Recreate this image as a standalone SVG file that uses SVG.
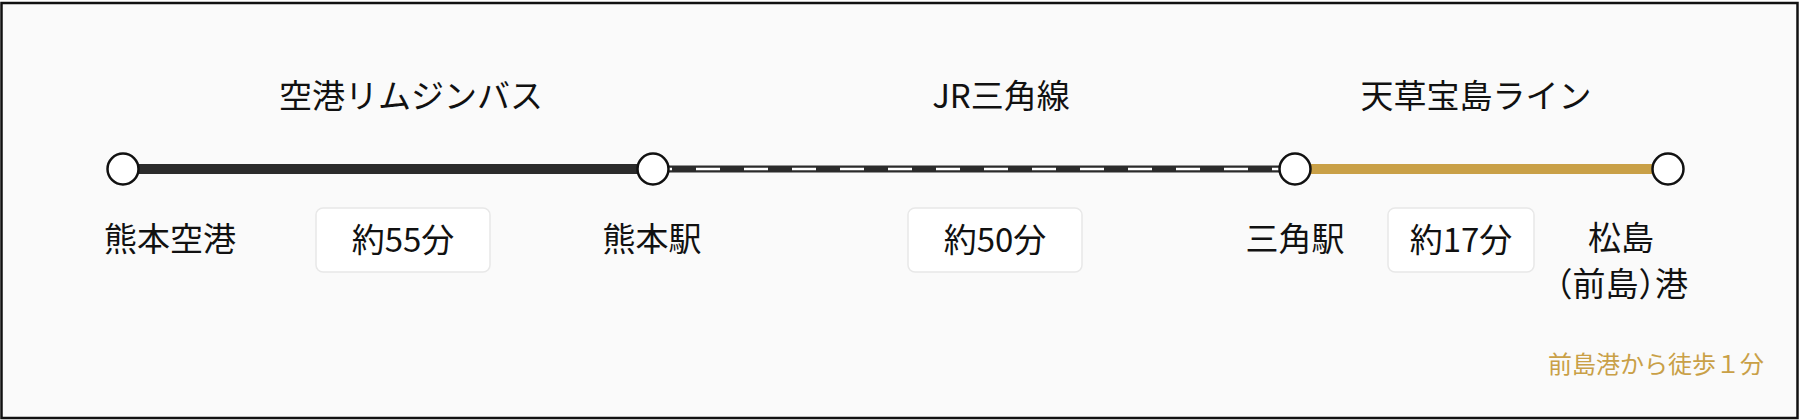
<svg xmlns="http://www.w3.org/2000/svg" width="1800" height="420" viewBox="0 0 1800 420">
<style>
.t{font-family:"Noto Sans CJK JP","Noto Sans",sans-serif;font-size:33px;fill:#111;text-anchor:middle}
.p{font-feature-settings:"halt"}
.note{font-family:"Noto Sans CJK JP","Noto Sans",sans-serif;font-size:24px;fill:#c9a047;text-anchor:end}
.node{fill:#fff;stroke:#111;stroke-width:2.5}
.box{fill:#fff;stroke:#e8e8e8;stroke-width:1.5}
</style>
<rect x="1.5" y="3" width="1796" height="415" fill="#fafafa" stroke="#111" stroke-width="2.5"/>
<g id="connectors">
<line x1="123" y1="169" x2="653" y2="169" stroke="#2b2b2b" stroke-width="10"/>
<line x1="653" y1="169" x2="1295" y2="169" stroke="#2b2b2b" stroke-width="7"/>
<line x1="648" y1="169" x2="1295" y2="169" stroke="#fff" stroke-width="2.5" stroke-dasharray="24 24"/>
<line x1="1295" y1="169" x2="1668" y2="169" stroke="#c9a047" stroke-width="10"/>
</g>
<g id="line-labels">
<text class="t" x="411" y="108">空港リムジンバス</text>
<text class="t" x="1001" y="108">JR三角線</text>
<text class="t" x="1476" y="108">天草宝島ライン</text>
</g>
<g id="kumamoto-airport">
<circle class="node" cx="123" cy="169" r="15.5"/>
<text class="t" x="170" y="251">熊本空港</text>
</g>
<g id="kumamoto-station">
<circle class="node" cx="653" cy="169" r="15.5"/>
<text class="t" x="652" y="251">熊本駅</text>
</g>
<g id="misumi-station">
<circle class="node" cx="1295" cy="169" r="15.5"/>
<text class="t" x="1295" y="251">三角駅</text>
</g>
<g id="matsushima-port">
<circle class="node" cx="1668" cy="169" r="15.5"/>
<text class="t" x="1621" y="250">松島</text>
<text class="t p" x="1622" y="296">（前島）港</text>
</g>
<g id="time-1">
<rect class="box" x="316" y="208" width="174" height="64" rx="7"/>
<text class="t" x="403" y="252">約55分</text>
</g>
<g id="time-2">
<rect class="box" x="908" y="208" width="174" height="64" rx="7"/>
<text class="t" x="995" y="252">約50分</text>
</g>
<g id="time-3">
<rect class="box" x="1388" y="208" width="146" height="64" rx="7"/>
<text class="t" x="1461" y="252">約17分</text>
</g>
<g id="note">
<text class="note" x="1764" y="373">前島港から徒歩１分</text>
</g>
</svg>
